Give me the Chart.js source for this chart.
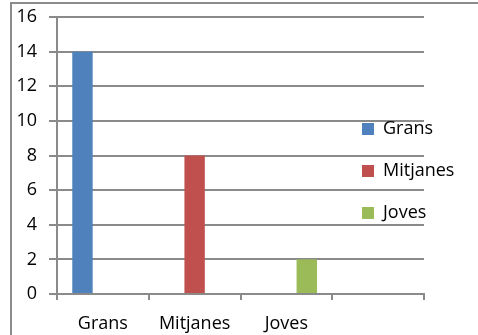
<!DOCTYPE html>
<html lang="ca">
<head>
    <meta charset="UTF-8">
    <title>Grans, Mitjanes, Joves</title>
    <script src="https://cdn.jsdelivr.net/npm/chart.js"></script>
    <style>
        body { margin: 0; background: #fff; }
    </style>
</head>
<body>
<canvas id="chart" width="478" height="335"></canvas>

<script>
// dades
const categories = ['Grans', 'Mitjanes', 'Joves', ''];
const grans    = [14, null, null, null];
const mitjanes = [null, 8, null, null];
const joves    = [null, null, 2, null];
const yTicks   = { min: 0, max: 16, step: 2 };

const gridColor = '#8a8a8a';
const font = { family: '"Open Sans", sans-serif', size: 18 };

// marc exterior (només es veu a l'esquerra i a dalt) i llegenda dins de l'àrea
const frameAndLegend = {
    id: 'frameAndLegend',
    beforeDraw(chart) {
        const ctx = chart.ctx;
        ctx.save();
        ctx.fillStyle = '#fff';
        ctx.fillRect(0, 0, chart.width, chart.height);
        ctx.strokeStyle = '#8c8c8c';
        ctx.lineWidth = 2;
        ctx.beginPath();
        ctx.moveTo(11, chart.height);
        ctx.lineTo(11, 3);
        ctx.lineTo(chart.width, 3);
        ctx.stroke();
        ctx.restore();
    },
    afterLayout(chart) {
        const lg = chart.legend;
        lg.left = 338;
        lg.top = 96;
        lg.right = lg.left + 120;
        lg.bottom = 300;
    }
};

new Chart(document.getElementById('chart'), {
    type: 'bar',
    data: {
        labels: categories,
        datasets: [
            { label: 'Grans',    data: grans,    backgroundColor: '#4F81BD', borderWidth: 0 },
            { label: 'Mitjanes', data: mitjanes, backgroundColor: '#C0504D', borderWidth: 0 },
            { label: 'Joves',    data: joves,    backgroundColor: '#9BBB59', borderWidth: 0 }
        ]
    },
    options: {
        responsive: false,
        animation: false,
        categoryPercentage: 0.667,
        barPercentage: 1,
        layout: { padding: { left: 0, top: 17, right: 54, bottom: 0 } },
        plugins: {
            legend: {
                position: 'chartArea',
                align: 'start',
                labels: { boxWidth: 12, boxHeight: 12, padding: 24, color: '#000', font: font }
            },
            tooltip: { enabled: false }
        },
        scales: {
            x: {
                afterFit(scale) { scale.height = 41; },
                grid: { offset: true, drawOnChartArea: false, tickLength: 6, color: gridColor, lineWidth: 2 },
                border: { color: gridColor, width: 2 },
                ticks: { color: '#000', font: font, padding: 13, maxRotation: 0 }
            },
            y: {
                afterFit(scale) {
                    scale.width = 57;
                    scale.paddingTop = 0;
                    scale.paddingBottom = 0;
                },
                min: yTicks.min,
                max: yTicks.max,
                grid: { tickLength: 8, color: gridColor, lineWidth: 2 },
                border: { color: gridColor, width: 2 },
                ticks: { stepSize: yTicks.step, color: '#000', font: font, padding: 12 }
            }
        }
    },
    plugins: [frameAndLegend]
});
</script>
</body>
</html>
